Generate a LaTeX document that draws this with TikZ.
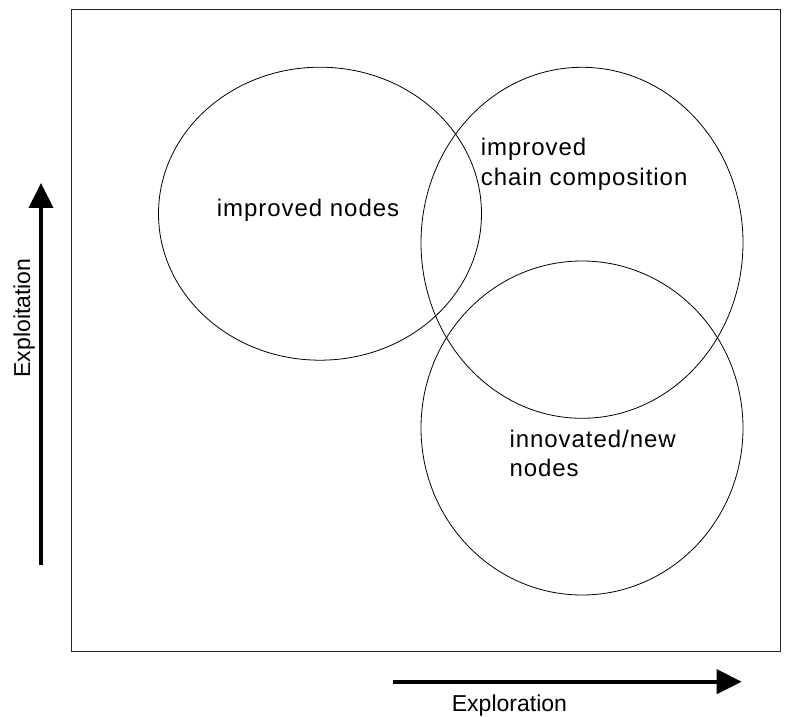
\documentclass[tikz,border=0pt]{standalone}
\usepackage{fontspec}
\setmainfont{Liberation Sans}
\usetikzlibrary{arrows.meta,shapes.geometric}
\begin{document}
\begin{tikzpicture}[x=1pt,y=1pt,
  frame/.style={draw=black!85,line width=0.9pt},
  region/.style={ellipse,draw=black,line width=0.8pt,inner sep=0pt},
  label/.style={inner sep=0pt,font=\fontsize{24}{29.7}\selectfont\addfontfeature{LetterSpace=4}},
  axislabel/.style={inner sep=0pt,font=\fontsize{23}{28.3}\selectfont},
  axis/.style={line width=4pt,-{Triangle[length=25pt,width=24pt]}}]
  \useasboundingbox (0,0) rectangle (787,716);

  % plot frame
  \node[frame,rectangle,inner sep=0pt,minimum width=709.6pt,minimum height=642.3pt,anchor=south west] (box) at (70.7,63.7) {};

  % the three regions
  \node[region,minimum width=323pt,minimum height=293pt] (nodesreg) at (320,502.3) {};
  \node[region,minimum width=322pt,minimum height=351pt] (chainreg) at (582,473.2) {};
  \node[region,minimum width=322pt,minimum height=334pt] (newreg) at (582,288) {};

  % region labels
  \node[label,anchor=base west] (tnodes) at (216.7,499) {improved nodes};
  \node[label,anchor=base west] (tchainA) at (480.7,560) {improved};
  \node[label,anchor=base west] (tchainB) at (480.7,530.3) {chain composition};
  \node[label,anchor=base west] (tnewA) at (509.3,269) {innovated/new};
  \node[label,anchor=base west] (tnewB) at (509.3,239.3) {nodes};

  % axes
  \coordinate (vfrom) at (41,151);
  \coordinate (vto) at (41,533);
  \draw[axis] (vfrom) -- (vto);
  \coordinate (hfrom) at (392.7,34.3);
  \coordinate (hto) at (741.7,34.3);
  \draw[axis] (hfrom) -- (hto);

  \node[axislabel,rotate=90,anchor=base] (tyaxis) at (30,398) {Exploitation};
  \node[axislabel,anchor=base west] (txaxis) at (451.7,5) {Exploration};
\end{tikzpicture}
\end{document}
